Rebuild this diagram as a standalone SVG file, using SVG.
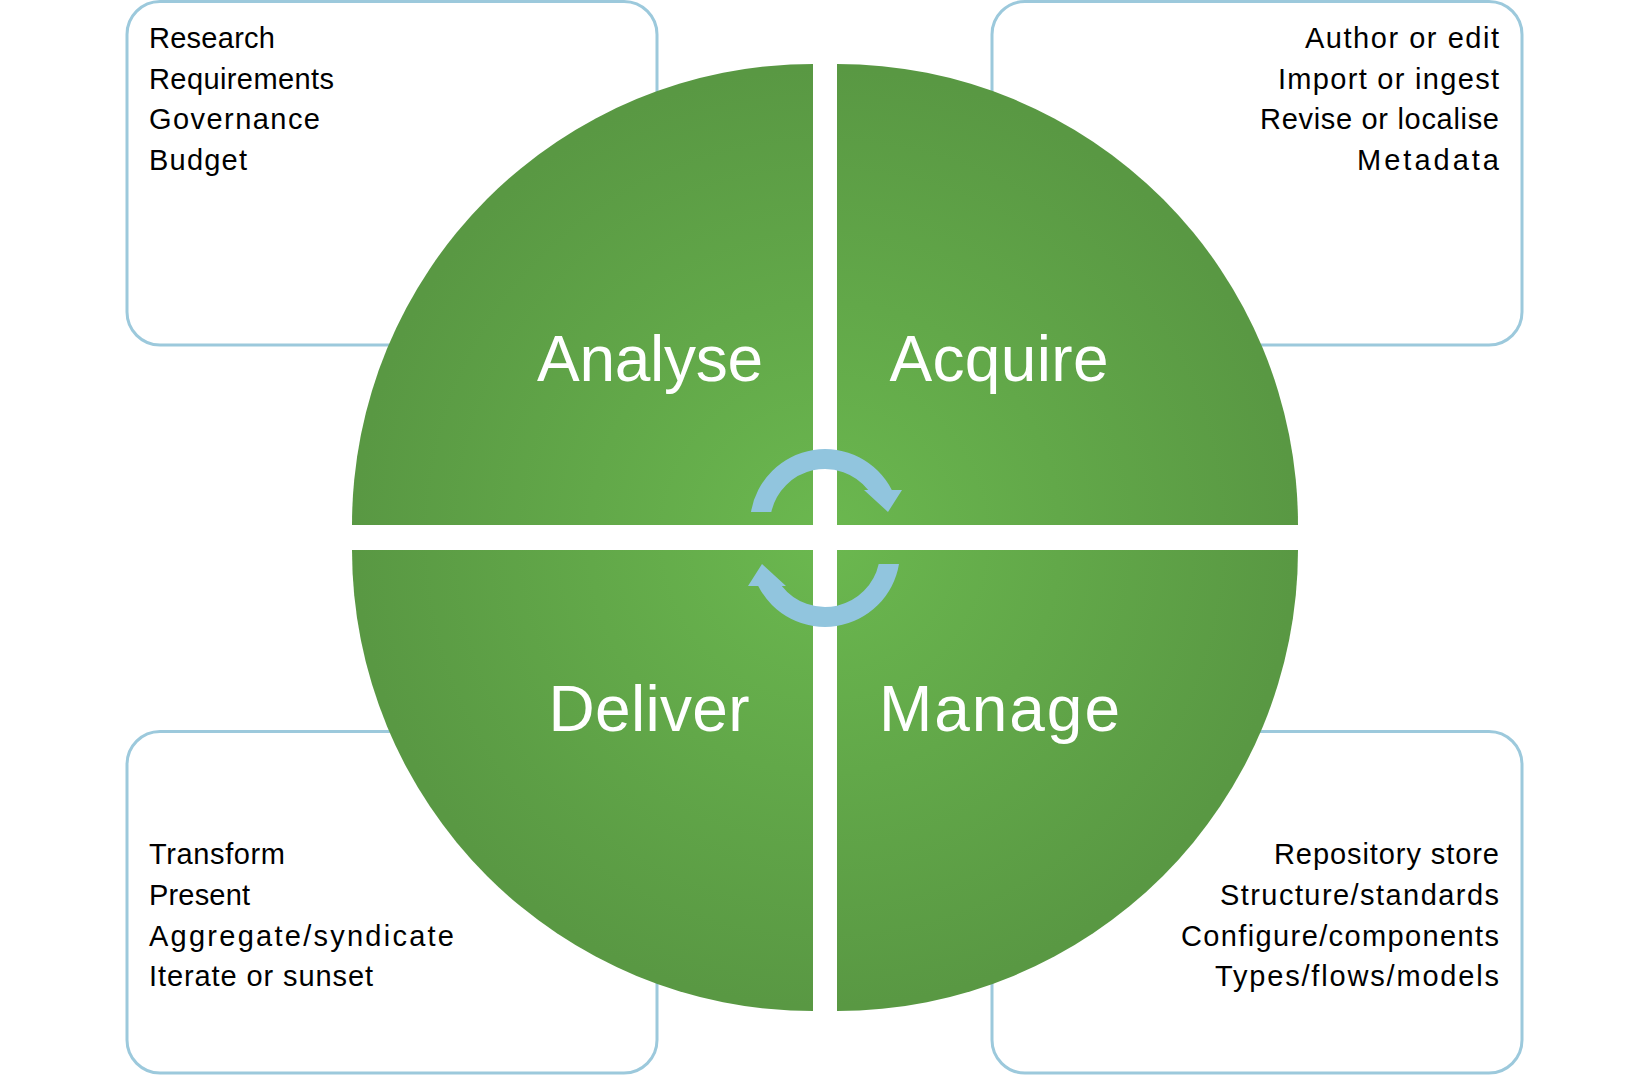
<svg xmlns="http://www.w3.org/2000/svg" width="1649" height="1076" viewBox="0 0 1649 1076">
  <defs>
    <radialGradient id="g" gradientUnits="userSpaceOnUse" cx="825" cy="537.5" r="470">
      <stop offset="0" stop-color="#6bb84f"/>
      <stop offset="1" stop-color="#599843"/>
    </radialGradient>
  </defs>
  <style>
    .box{fill:#ffffff;stroke:#9cc9dc;stroke-width:3}
    .quad{fill:url(#g)}
    .item{font-family:"Liberation Sans",Arial,sans-serif;font-size:29px;fill:#000000}
    .r{text-anchor:end}
    .lbl{font-family:"Liberation Sans",Arial,sans-serif;font-size:64px;fill:#ffffff;text-anchor:middle}
    .arrow{fill:#91c5de}
  </style>
  <rect width="1649" height="1076" fill="#ffffff"/>

  <g id="box-analyse">
    <rect class="box" x="127" y="1.5" width="530" height="343.5" rx="33"/>
    <text class="item" x="149" y="48" textLength="126" lengthAdjust="spacing">Research</text>
    <text class="item" x="149" y="88.5" textLength="185" lengthAdjust="spacing">Requirements</text>
    <text class="item" x="149" y="129" textLength="171" lengthAdjust="spacing">Governance</text>
    <text class="item" x="149" y="169.5" textLength="98" lengthAdjust="spacing">Budget</text>
  </g>
  <g id="box-acquire">
    <rect class="box" x="992" y="1.5" width="530" height="343.5" rx="33"/>
    <text class="item r" x="1499" y="48" textLength="194" lengthAdjust="spacing">Author or edit</text>
    <text class="item r" x="1499" y="88.5" textLength="221" lengthAdjust="spacing">Import or ingest</text>
    <text class="item r" x="1499" y="129" textLength="239" lengthAdjust="spacing">Revise or localise</text>
    <text class="item r" x="1499" y="169.5" textLength="142" lengthAdjust="spacing">Metadata</text>
  </g>
  <g id="box-deliver">
    <rect class="box" x="127" y="731.5" width="530" height="341.5" rx="33"/>
    <text class="item" x="149" y="863.5" textLength="136" lengthAdjust="spacing">Transform</text>
    <text class="item" x="149" y="904.5" textLength="101" lengthAdjust="spacing">Present</text>
    <text class="item" x="149" y="945.5" textLength="305" lengthAdjust="spacing">Aggregate/syndicate</text>
    <text class="item" x="149" y="986" textLength="224" lengthAdjust="spacing">Iterate or sunset</text>
  </g>
  <g id="box-manage">
    <rect class="box" x="992" y="731.5" width="530" height="341.5" rx="33"/>
    <text class="item r" x="1499" y="863.5" textLength="225" lengthAdjust="spacing">Repository store</text>
    <text class="item r" x="1499" y="904.5" textLength="279" lengthAdjust="spacing">Structure/standards</text>
    <text class="item r" x="1499" y="945.5" textLength="318" lengthAdjust="spacing">Configure/components</text>
    <text class="item r" x="1499" y="986" textLength="284" lengthAdjust="spacing">Types/flows/models</text>
  </g>

  <g id="analyse">
    <path class="quad" d="M813,525 L352,525 A461,461 0 0 1 813,64 Z"/>
    <text class="lbl" x="650" y="381" textLength="226" lengthAdjust="spacing">Analyse</text>
  </g>
  <g id="acquire">
    <path class="quad" d="M837,525 L837,64 A461,461 0 0 1 1298,525 Z"/>
    <text class="lbl" x="999" y="381" textLength="219" lengthAdjust="spacing">Acquire</text>
  </g>
  <g id="deliver">
    <path class="quad" d="M813,550 L813,1011 A461,461 0 0 1 352,550 Z"/>
    <text class="lbl" x="649" y="731" textLength="201" lengthAdjust="spacing">Deliver</text>
  </g>
  <g id="manage">
    <path class="quad" d="M837,550 L1298,550 A461,461 0 0 1 837,1011 Z"/>
    <text class="lbl" x="999.5" y="731" textLength="241" lengthAdjust="spacing">Manage</text>
  </g>

  <g id="connectors">
    <path id="arrow-top" class="arrow" d="M751,512 A75,75 0 0 1 891.8,490 L902,490 L888,512 L864,490 L868.2,490 A55,55 0 0 0 771.3,512 Z"/>
    <path id="arrow-bottom" class="arrow" transform="rotate(180 825 538)" d="M751,512 A75,75 0 0 1 891.8,490 L902,490 L888,512 L864,490 L868.2,490 A55,55 0 0 0 771.3,512 Z"/>
  </g>
</svg>
